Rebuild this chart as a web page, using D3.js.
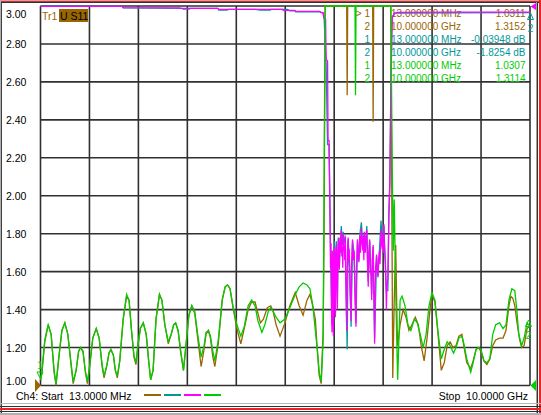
<!DOCTYPE html>
<html>
<head>
<meta charset="utf-8" />
<script src="https://cdn.jsdelivr.net/npm/d3@7"></script>
<style>
html, body { margin: 0; padding: 0; background: #fff; }
svg { display: block; font-family: "Liberation Sans", Arial, sans-serif; }
</style>
</head>
<body>
<div id="chart"></div>
<script>
// axis
var startGHz = 0.013, stopGHz = 10;
var yTicks = [3.0, 2.8, 2.6, 2.4, 2.2, 2.0, 1.8, 1.6, 1.4, 1.2, 1.0];

// trace colours (Tr1..Tr4)
var colors = ["#996600", "#00999a", "#ff00ff", "#00cc00"];

// marker readout table
var markerRows = [
	{ id: "> 1", freq: "13.000000 MHz", value: "1.0311", trace: 0 },
	{ id: "2", freq: "10.000000 GHz", value: "1.3152", trace: 0 },
	{ id: "1", freq: "13.000000 MHz", value: "-0.03948 dB", trace: 1 },
	{ id: "2", freq: "10.000000 GHz", value: "-1.8254 dB", trace: 1 },
	{ id: "1", freq: "13.000000 MHz", value: "1.0307", trace: 3 },
	{ id: "2", freq: "10.000000 GHz", value: "1.3114", trace: 3 }
];

// [GHz, value]; values above 3 are drawn pinned to the top line
var brownTrace = [
	[0.013,1.03],[0.04,1.06],[0.10,1.23],[0.17,1.32],[0.23,1.27],[0.29,1.07],[0.33,1.00],[0.39,1.15],
	[0.45,1.29],[0.51,1.33],[0.57,1.27],[0.64,1.10],[0.68,1.01],[0.74,1.08],[0.79,1.18],[0.83,1.20],
	[0.88,1.18],[0.93,1.07],[0.97,1.01],[1.02,1.11],[1.08,1.25],[1.15,1.30],[1.21,1.25],[1.27,1.10],
	[1.31,1.04],[1.37,1.11],[1.41,1.17],[1.45,1.19],[1.50,1.16],[1.54,1.08],[1.58,1.04],[1.63,1.13],
	[1.70,1.35],[1.77,1.47],[1.82,1.45],[1.87,1.29],[1.92,1.15],[1.96,1.11],[2.00,1.21],[2.05,1.30],
	[2.11,1.33],[2.17,1.27],[2.22,1.13],[2.26,1.03],[2.31,1.08],[2.37,1.35],[2.44,1.48],[2.49,1.45],
	[2.55,1.32],[2.62,1.22],[2.68,1.27],[2.73,1.32],[2.77,1.33],[2.82,1.29],[2.87,1.18],[2.93,1.08],
	[2.98,1.21],[3.04,1.37],[3.10,1.42],[3.16,1.38],[3.22,1.25],[3.29,1.10],[3.35,1.19],[3.39,1.27],
	[3.44,1.29],[3.48,1.25],[3.53,1.15],[3.57,1.10],[3.64,1.22],[3.72,1.45],[3.78,1.52],[3.83,1.53],
	[3.88,1.51],[3.94,1.41],[4.02,1.30],[4.10,1.22],[4.17,1.30],[4.25,1.40],[4.32,1.44],[4.39,1.44],
	[4.45,1.38],[4.50,1.33],[4.56,1.35],[4.64,1.41],[4.71,1.42],[4.76,1.39],[4.82,1.32],[4.90,1.26],
	[5.00,1.33],[5.10,1.42],[5.21,1.49],[5.29,1.42],[5.37,1.37],[5.45,1.45],[5.51,1.48],[5.55,1.44],
	[5.62,1.35],[5.66,1.19],[5.70,1.05],[5.74,1.01],[5.78,1.29],[5.80,1.85],[5.82,3.5],
	[6.26,3.5],[6.27,2.53],[6.28,3.5],[6.79,3.5],[6.80,2.39],[6.81,3.5],
	[7.16,3.5],[7.20,1.04],[7.23,1.45],[7.26,1.74],[7.29,1.29],[7.30,1.21],[7.35,1.32],[7.41,1.40],
	[7.47,1.36],[7.53,1.29],[7.59,1.32],[7.66,1.36],[7.72,1.32],[7.78,1.21],[7.84,1.13],[7.90,1.25],
	[7.96,1.40],[8.00,1.48],[8.06,1.44],[8.12,1.28],[8.19,1.08],[8.25,1.12],[8.31,1.21],[8.37,1.23],
	[8.43,1.20],[8.49,1.21],[8.55,1.26],[8.61,1.27],[8.65,1.21],[8.71,1.12],[8.79,1.09],[8.84,1.13],
	[8.90,1.19],[8.95,1.20],[9.00,1.18],[9.06,1.13],[9.12,1.11],[9.18,1.14],[9.24,1.21],[9.30,1.24],
	[9.38,1.25],[9.45,1.25],[9.51,1.29],[9.57,1.42],[9.61,1.47],[9.65,1.46],[9.69,1.42],[9.73,1.34],
	[9.79,1.24],[9.83,1.20],[9.88,1.21],[9.94,1.30],[10.0,1.315]
];

var tealTrace = [
	[0.013,3.0],[1.68,2.998],[1.70,2.99],[2.90,2.988],[2.92,2.984],[3.05,2.984],[3.07,2.988],[3.63,2.988],
	[3.65,2.978],[3.82,2.978],[3.84,2.982],[4.40,2.982],[4.50,2.978],[4.70,2.978],[4.72,2.982],[5.05,2.982],
	[5.10,2.975],[5.20,2.975],[5.22,2.969],[5.72,2.969],[5.78,2.962],[5.80,2.93],[5.84,2.70],[5.87,2.27],
	[5.90,2.27],[5.92,1.88],[5.94,1.58],[5.96,1.32],[5.97,1.69],[5.99,1.30],[6.01,1.76],[6.02,1.54],
	[6.05,1.76],[6.07,1.45],[6.09,1.78],[6.11,1.63],[6.15,1.84],[6.17,1.74],[6.19,1.81],[6.21,1.75],
	[6.23,1.78],[6.27,1.19],[6.29,1.77],[6.32,1.62],[6.35,1.31],[6.38,1.76],[6.41,1.70],[6.45,1.33],
	[6.48,1.76],[6.51,1.66],[6.53,1.80],[6.56,1.86],[6.59,1.72],[6.62,1.80],[6.64,1.71],[6.67,1.84],
	[6.70,1.55],[6.73,1.76],[6.77,1.48],[6.80,1.73],[6.83,1.25],[6.87,1.68],[6.90,1.58],[6.93,1.72],
	[6.96,1.87],[6.99,1.73],[7.02,1.84],[7.05,1.62],[7.07,1.50],[7.10,1.50],[7.12,1.88],[7.14,2.05],
	[7.16,2.52],[7.18,2.85],[7.19,2.94],[7.23,2.962],[10.0,2.965]
];

var magentaTrace = [
	[0.013,2.998],[1.67,2.998],[1.70,2.991],[2.85,2.990],[2.87,2.988],[3.63,2.988],[3.65,2.982],[4.95,2.982],
	[4.97,2.977],[5.20,2.977],[5.22,2.972],[5.71,2.972],[5.73,2.965],[5.78,2.965],[5.79,2.94],[5.83,2.93],
	[5.84,2.72],[5.87,2.71],[5.88,2.29],[5.90,2.29],
	[5.92,1.91],[5.93,1.62],[5.94,1.75],[5.95,1.40],[5.96,1.28],[5.97,1.71],[5.98,1.55],[5.99,1.26],
	[6.00,1.66],[6.01,1.73],[6.02,1.50],[6.03,1.36],[6.04,1.70],[6.05,1.74],[6.06,1.55],[6.07,1.40],
	[6.08,1.69],[6.09,1.77],[6.10,1.66],[6.11,1.61],[6.12,1.78],[6.13,1.70],[6.15,1.82],[6.16,1.68],
	[6.17,1.73],[6.18,1.62],[6.19,1.80],[6.20,1.71],[6.21,1.74],[6.22,1.66],[6.23,1.79],[6.24,1.58],
	[6.26,1.29],[6.27,1.60],[6.28,1.74],[6.29,1.78],[6.30,1.66],[6.31,1.72],[6.32,1.63],[6.33,1.50],
	[6.35,1.34],[6.36,1.64],[6.37,1.72],[6.38,1.77],[6.39,1.66],[6.41,1.71],[6.42,1.60],[6.43,1.45],
	[6.45,1.31],[6.46,1.62],[6.47,1.70],[6.48,1.77],[6.49,1.68],[6.51,1.65],[6.52,1.75],[6.53,1.79],
	[6.54,1.70],[6.56,1.83],[6.57,1.76],[6.59,1.71],[6.60,1.79],[6.61,1.66],[6.62,1.81],[6.63,1.73],
	[6.64,1.70],[6.65,1.78],[6.67,1.82],[6.68,1.68],[6.70,1.52],[6.71,1.70],[6.73,1.77],[6.74,1.62],
	[6.76,1.58],[6.77,1.45],[6.78,1.66],[6.80,1.74],[6.81,1.55],[6.83,1.22],[6.84,1.48],[6.85,1.62],
	[6.87,1.69],[6.88,1.60],[6.90,1.57],[6.91,1.66],[6.93,1.71],[6.94,1.64],[6.96,1.82],[6.97,1.75],
	[6.99,1.72],[7.00,1.80],[7.01,1.70],[7.02,1.85],[7.03,1.74],[7.05,1.65],[7.06,1.55],[7.07,1.40],
	[7.08,1.52],[7.10,1.56],[7.11,1.72],[7.12,1.91],
	[7.14,2.08],[7.16,2.54],[7.18,2.86],[7.19,2.94],[7.23,2.96],[7.29,2.966],[8.37,2.968],[10.0,2.968]
];

var greenTrace = [
	[0.013,1.03],[0.04,1.07],[0.10,1.24],[0.17,1.32],[0.23,1.27],[0.29,1.08],[0.33,1.01],[0.39,1.16],
	[0.45,1.29],[0.51,1.33],[0.57,1.27],[0.64,1.11],[0.68,1.02],[0.74,1.08],[0.79,1.18],[0.83,1.20],
	[0.88,1.18],[0.93,1.07],[0.97,1.02],[1.02,1.11],[1.08,1.25],[1.15,1.30],[1.21,1.25],[1.27,1.11],
	[1.31,1.05],[1.37,1.11],[1.41,1.17],[1.45,1.19],[1.50,1.16],[1.54,1.08],[1.58,1.05],[1.63,1.13],
	[1.70,1.35],[1.77,1.48],[1.82,1.45],[1.87,1.29],[1.92,1.16],[1.96,1.12],[2.00,1.21],[2.05,1.30],
	[2.11,1.33],[2.17,1.27],[2.22,1.13],[2.26,1.03],[2.31,1.08],[2.37,1.35],[2.44,1.48],[2.49,1.45],
	[2.55,1.32],[2.62,1.23],[2.68,1.27],[2.73,1.32],[2.77,1.33],[2.82,1.29],[2.87,1.19],[2.93,1.08],
	[2.98,1.21],[3.04,1.37],[3.10,1.42],[3.16,1.39],[3.22,1.27],[3.29,1.15],[3.35,1.21],[3.39,1.28],
	[3.44,1.29],[3.48,1.26],[3.53,1.18],[3.57,1.13],[3.64,1.24],[3.72,1.45],[3.78,1.52],[3.83,1.53],
	[3.88,1.51],[3.94,1.42],[4.02,1.32],[4.10,1.26],[4.17,1.31],[4.25,1.42],[4.32,1.45],[4.39,1.42],
	[4.45,1.34],[4.53,1.28],[4.59,1.32],[4.66,1.39],[4.71,1.41],[4.76,1.39],[4.82,1.36],[4.90,1.33],
	[5.00,1.35],[5.10,1.41],[5.21,1.48],[5.29,1.52],[5.37,1.54],[5.45,1.53],[5.51,1.51],[5.57,1.42],
	[5.62,1.29],[5.66,1.19],[5.70,1.07],[5.74,1.02],[5.78,1.24],[5.82,3.5],
	[6.43,3.5],[6.44,2.53],[6.45,3.5],
	[7.16,3.5],[7.19,2.14],[7.21,1.71],[7.23,1.98],[7.26,1.50],[7.30,1.03],[7.35,1.45],[7.39,1.47],
	[7.45,1.42],[7.51,1.32],[7.57,1.29],[7.64,1.35],[7.70,1.33],[7.76,1.27],[7.82,1.20],[7.88,1.27],
	[7.94,1.42],[8.00,1.49],[8.06,1.45],[8.12,1.29],[8.19,1.14],[8.25,1.19],[8.31,1.23],[8.37,1.21],
	[8.44,1.17],[8.49,1.20],[8.55,1.25],[8.61,1.26],[8.65,1.22],[8.71,1.14],[8.79,1.07],[8.84,1.12],
	[8.90,1.19],[8.95,1.20],[9.00,1.19],[9.06,1.13],[9.12,1.12],[9.18,1.14],[9.24,1.27],[9.30,1.32],
	[9.38,1.33],[9.45,1.30],[9.51,1.32],[9.57,1.45],[9.63,1.51],[9.69,1.50],[9.73,1.40],[9.77,1.27],
	[9.83,1.21],[9.88,1.25],[9.94,1.33],[10.0,1.311]
];

var traces = [brownTrace, tealTrace, magentaTrace, greenTrace];

var W = 541, H = 415;
var svg = d3.select("#chart").append("svg").attr("width", W).attr("height", H);

svg.append("rect").attr("width", W).attr("height", H).attr("fill", "#fff");

var x = d3.scaleLinear().domain([startGHz, stopGHz]).range([40.5, 530]);
var y = d3.scaleLinear().domain([1, 3]).range([385.5, 6]).clamp(true);

// grid: 10 divisions each way
var grid = svg.append("g").attr("stroke", "#303030").attr("stroke-width", 1.6);
d3.range(11).forEach(function(i) {
	var gx = x(startGHz + i * (stopGHz - startGHz) / 10);
	grid.append("line").attr("x1", gx).attr("x2", gx).attr("y1", y(3)).attr("y2", y(1));
});
yTicks.forEach(function(t) {
	grid.append("line").attr("x1", x.range()[0]).attr("x2", x.range()[1]).attr("y1", y(t)).attr("y2", y(t));
});

// tick labels (top and bottom ones are pushed inside)
svg.append("g").selectAll("text").data(yTicks).enter().append("text")
	.attr("x", 6)
	.attr("y", function(d) {
		if (d === 3) return y(d) + 12.3;
		if (d === 1) return y(d) - 1;
		return y(d) + 4;
	})
	.attr("font-size", "10.5px")
	.attr("fill", "#000")
	.text(function(d) { return d.toFixed(2); });

// trace title
svg.append("text").attr("x", 42).attr("y", 20).attr("font-size", "10.5px")
	.attr("fill", colors[0]).text("Tr1");
svg.append("rect").attr("x", 59).attr("y", 9).attr("width", 29).attr("height", 13).attr("fill", colors[0]);
svg.append("text").attr("x", 60).attr("y", 20).attr("font-size", "10.5px")
	.attr("fill", "#000").text("U S11");

// marker readout
var table = svg.append("g").attr("font-size", "10px");
markerRows.forEach(function(r, i) {
	var by = 17 + i * 13;
	var c = colors[r.trace];
	table.append("text").attr("x", 370).attr("y", by).attr("text-anchor", "end").attr("fill", c).text(r.id);
	table.append("text").attr("x", 391).attr("y", by).attr("fill", c).text(r.freq);
	table.append("text").attr("x", 525.5).attr("y", by).attr("text-anchor", "end").attr("fill", c).text(r.value);
});

// traces
var line = d3.line()
	.x(function(d) { return x(d[0]); })
	.y(function(d) { return y(d[1]); });

svg.append("g").selectAll("path").data(traces).enter().append("path")
	.attr("d", line)
	.attr("fill", "none")
	.attr("stroke", function(d, i) { return colors[i]; })
	.attr("stroke-width", 1.3)
	.attr("stroke-linejoin", "miter");

// reference arrows
svg.append("path").attr("d", "M35,379L41,385.5L35,392Z").attr("fill", colors[0]);
svg.append("path").attr("d", "M537,379L530.5,385.5L537,392Z").attr("fill", colors[3]);
svg.append("path").attr("d", "M536,3L530.5,6.5L536,10Z").attr("fill", colors[2]);

// marker symbols
function markerSym(cx, ty, label, c, down) {
	var p = down
		? "M" + (cx - 3) + "," + ty + "L" + (cx + 3) + "," + ty + "L" + cx + "," + (ty + 6) + "Z"
		: "M" + cx + "," + ty + "L" + (cx + 3) + "," + (ty + 6.5) + "L" + (cx - 3) + "," + (ty + 6.5) + "Z";
	svg.append("path").attr("d", p).attr("fill", "none").attr("stroke", c).attr("stroke-width", 1);
	svg.append("text").attr("x", cx).attr("y", down ? ty - 3 : ty + 19)
		.attr("text-anchor", "middle").attr("font-size", "10px").attr("fill", c).text(label);
}
markerSym(40, 372, "1", colors[3], true);
markerSym(528.5, 320, "2", colors[3], false);
markerSym(530.5, 13, "2", colors[1], false);

// channel footer
svg.append("text").attr("x", 16).attr("y", 400).attr("font-size", "10.5px").attr("fill", "#000")
	.attr("xml:space", "preserve").text("Ch4: Start  13.0000 MHz");
svg.append("text").attr("x", 528).attr("y", 400).attr("font-size", "10.5px").attr("fill", "#000")
	.attr("text-anchor", "end").attr("xml:space", "preserve").text("Stop  10.0000 GHz");
colors.forEach(function(c, i) {
	svg.append("rect").attr("x", 144 + i * 20).attr("y", 394).attr("width", 17).attr("height", 2).attr("fill", c);
});

// window frame
var frame = svg.append("g");
function band(xx, yy, w, h, c) {
	frame.append("rect").attr("x", xx).attr("y", yy).attr("width", w).attr("height", h).attr("fill", c);
}
band(0, 0, W, 1, "#b0b0b0");
band(0, 1, W, 1, "#ee2222");
band(0, 2, W, 1, "#303030");
band(0, 0, 1, H, "#b0b0b0");
band(1, 2, 1, H - 2, "#404040");
band(536, 2, 1, H - 2, "#a0a0a0");
band(537, 2, 1, H - 2, "#303030");
band(539, 0, 2, H, "#ee2222");
band(0, 403, W, 1, "#b8b8b8");
band(0, 406, W, 1, "#303030");
band(0, 408, W, 2, "#ee2222");
band(0, 411, W, 1, "#303030");
band(0, 413, W, 2, "#b0b0b0");
</script>
</body>
</html>
